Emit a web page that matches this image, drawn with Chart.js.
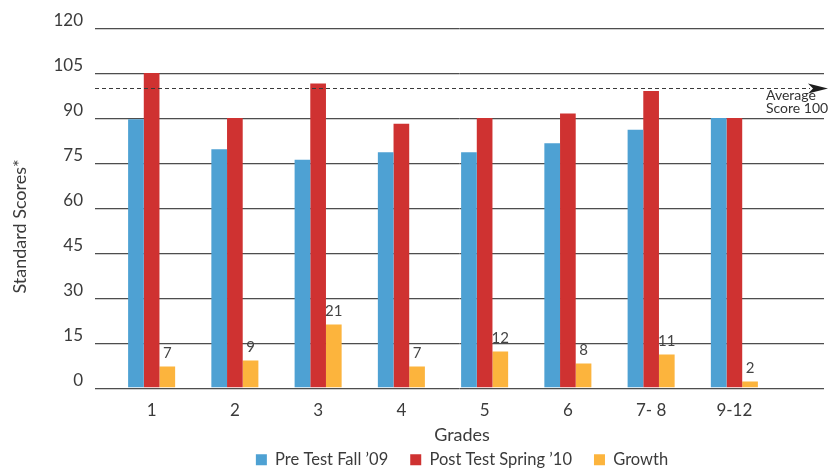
<!DOCTYPE html>
<html>
<head>
<meta charset="utf-8">
<script src="https://cdn.jsdelivr.net/npm/chart.js@4/dist/chart.umd.min.js"></script>
<style>
  html, body { margin: 0; padding: 0; background: #ffffff; }
  #wrap { position: relative; width: 834px; height: 471px; }
</style>
</head>
<body>
<div id="wrap"><canvas id="chart" width="834" height="471"></canvas></div>
<script>
// Grade groups on the x axis
const grades = ['1', '2', '3', '4', '5', '6', '7- 8', '9-12'];

// Standard scores per grade
const preTestFall09 = [89.5, 79.5, 76, 78.5, 78.5, 81.5, 86, 90];
const postTestSpring10 = [105, 90, 101.5, 88, 90, 91.5, 99, 90];
const growth = [7, 9, 21, 7, 12, 8, 11, 2];

// Reference level for the dashed marker
const averageScore = 100;

// Value axis ticks
const scoreTicks = [0, 15, 30, 45, 60, 75, 90, 105, 120];

const FONT = 'Lato, "Open Sans", "DejaVu Sans", sans-serif';
const TEXT = '#3b3b3b';

// Horizontal rules, the average marker, value labels and axis titles
const decorations = {
  id: 'decorations',
  afterLayout(chart) {
    // centre the legend under the plotted groups
    const lg = chart.legend;
    const w = lg.right - lg.left;
    lg.left = 462 - w / 2;
    lg.right = lg.left + w;
    lg.top += 7;
    lg.bottom += 7;
  },
  beforeDatasetsDraw(chart) {
    const ctx = chart.ctx;
    const y = chart.scales.y;
    ctx.save();
    scoreTicks.forEach(v => {
      const py = Math.round(y.getPixelForValue(v)) + 0.5;
      ctx.strokeStyle = '#cfcfcf';
      ctx.lineWidth = 1;
      ctx.beginPath(); ctx.moveTo(95, py + 1); ctx.lineTo(824, py + 1); ctx.stroke();
      ctx.strokeStyle = '#4e4e4e';
      ctx.beginPath(); ctx.moveTo(95, py); ctx.lineTo(824, py); ctx.stroke();
    });
    ctx.restore();
  },
  afterDatasetsDraw(chart) {
    const ctx = chart.ctx;
    const y = chart.scales.y;
    ctx.save();

    // growth values above the orange bars
    const meta = chart.getDatasetMeta(2);
    ctx.fillStyle = '#444';
    ctx.font = '15px ' + FONT;
    ctx.textAlign = 'center';
    ctx.textBaseline = 'middle';
    meta.data.forEach((bar, i) => {
      ctx.fillText(String(growth[i]), bar.x, bar.y - 13);
    });

    // dashed average line with arrow head
    const ay = Math.round(y.getPixelForValue(averageScore)) + 0.5;
    ctx.strokeStyle = '#3a3a3a';
    ctx.lineWidth = 1.2;
    ctx.setLineDash([4, 3]);
    ctx.beginPath(); ctx.moveTo(95, ay); ctx.lineTo(810, ay); ctx.stroke();
    ctx.setLineDash([]);
    ctx.fillStyle = '#1e1e1e';
    ctx.beginPath();
    ctx.moveTo(828, ay);
    ctx.lineTo(808, ay - 5);
    ctx.lineTo(813, ay);
    ctx.lineTo(808, ay + 5);
    ctx.closePath();
    ctx.fill();

    ctx.fillStyle = '#333';
    ctx.font = '14px ' + FONT;
    ctx.textAlign = 'left';
    ctx.fillText('Average', 766, ay + 7);
    ctx.fillText('Score ' + averageScore, 766, ay + 20);

    // axis titles
    ctx.fillStyle = TEXT;
    ctx.font = '18px ' + FONT;
    ctx.textAlign = 'center';
    ctx.fillText('Grades', 462, 435);
    ctx.translate(20, 226.5);
    ctx.rotate(-Math.PI / 2);
    ctx.font = '18px ' + FONT;
    ctx.fillText('Standard Scores*', 0, 0);
    ctx.restore();
  }
};

new Chart(document.getElementById('chart'), {
  type: 'bar',
  data: {
    labels: grades,
    datasets: [
      { label: 'Pre Test Fall \u201909', data: preTestFall09, backgroundColor: '#4ea1d3' },
      { label: 'Post Test Spring \u201910', data: postTestSpring10, backgroundColor: '#cf3231' },
      { label: 'Growth', data: growth, backgroundColor: '#fcb43d' }
    ]
  },
  options: {
    responsive: false,
    animation: false,
    devicePixelRatio: 1,
    layout: { padding: { top: 28, right: 58, bottom: 0, left: 0 } },
    datasets: { bar: { categoryPercentage: 0.565, barPercentage: 1.0 } },
    scales: {
      x: {
        offset: true,
        grid: { display: false, drawTicks: false },
        border: { display: false },
        ticks: { color: TEXT, font: { family: FONT, size: 17 }, padding: 13 },
        afterFit(scale) { scale.height = 35; }
      },
      y: {
        min: 0,
        max: 120,
        afterBuildTicks(scale) { scale.ticks = scoreTicks.map(v => ({ value: v })); },
        grid: { display: false, drawTicks: false },
        border: { display: false },
        ticks: { color: TEXT, font: { family: FONT, size: 17 }, padding: 27, labelOffset: -7 },
        afterFit(scale) {
          scale.width = 110;
          scale.paddingTop = 0;
          scale.paddingBottom = 0;
        }
      }
    },
    plugins: {
      legend: {
        position: 'bottom',
        labels: {
          color: TEXT,
          font: { family: FONT, size: 16.5 },
          boxWidth: 11,
          boxHeight: 11,
          padding: 22
        }
      },
      tooltip: { enabled: false }
    }
  },
  plugins: [decorations]
});
</script>
</body>
</html>
